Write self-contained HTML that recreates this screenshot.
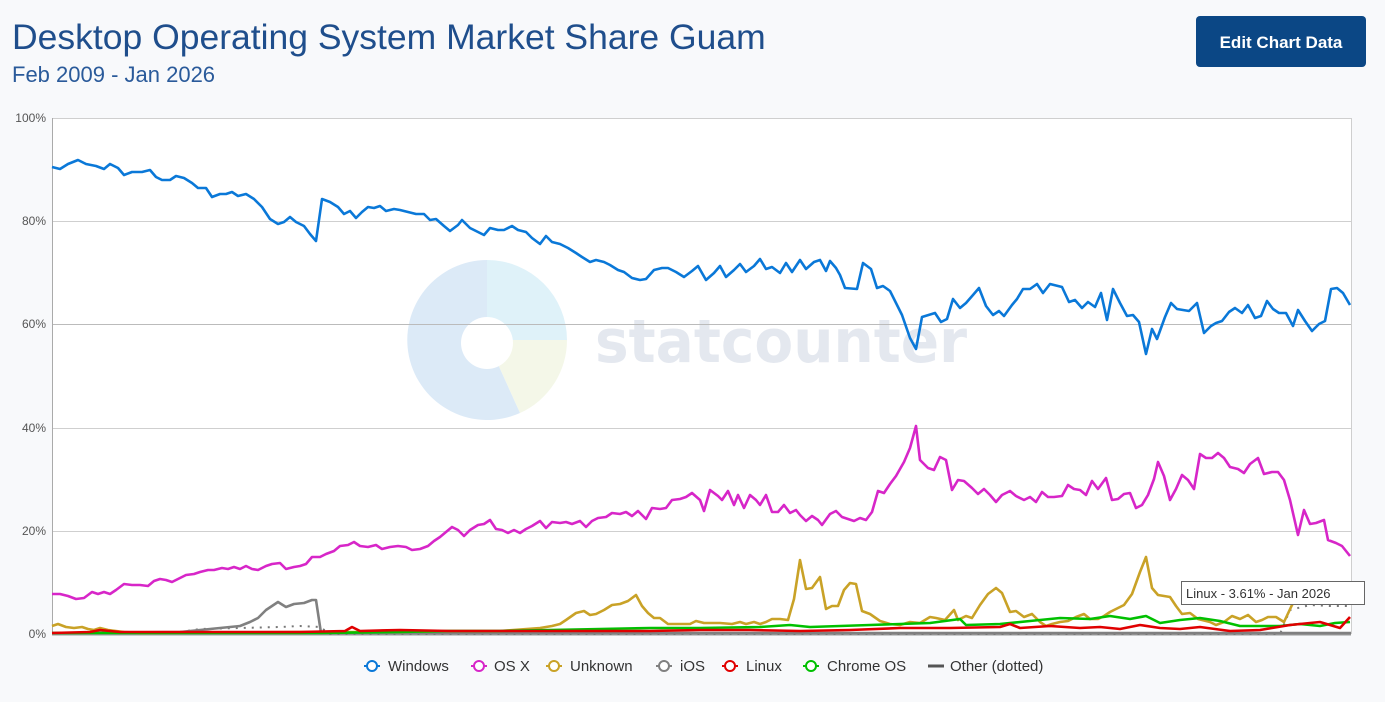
<!DOCTYPE html>
<html><head><meta charset="utf-8"><style>
body{margin:0;background:#f8f9fb;font-family:"Liberation Sans",sans-serif;}
</style></head><body>
<svg width="1385" height="702" xmlns="http://www.w3.org/2000/svg" style="display:block">
<rect width="1385" height="702" fill="#f8f9fb"/>
<text x="12" y="49" font-family="Liberation Sans, sans-serif" font-size="35.5" fill="#1f4e8c">Desktop Operating System Market Share Guam</text>
<text x="12" y="82" font-family="Liberation Sans, sans-serif" font-size="22" fill="#2a5a9a">Feb 2009 - Jan 2026</text>
<rect x="1196" y="16" width="170" height="51" rx="4" fill="#0b4785"/>
<text x="1281" y="48" text-anchor="middle" font-family="Liberation Sans, sans-serif" font-size="17" font-weight="bold" fill="#fff">Edit Chart Data</text>
<rect x="52" y="118" width="1299" height="516" fill="#fff"/>
<g opacity="0.9">
<path d="M487,340 L487,260 A80,80 0 0 1 567,340 Z" fill="#dcf1f9"/>
<path d="M487,340 L567,340 A80,80 0 0 1 520,413 Z" fill="#f3f7e6"/>
<path d="M487,340 L520,413 A80,80 0 1 1 487,260 Z" fill="#d9e8f7"/>
<circle cx="487" cy="343" r="26" fill="#fff"/>
<text x="595" y="362" font-family="DejaVu Sans, sans-serif" font-weight="bold" font-size="60" fill="#e2e6ee" textLength="372" lengthAdjust="spacingAndGlyphs">statcounter</text>
</g>
<g stroke="#cfcfcf" stroke-width="1">
<line x1="52" y1="118.5" x2="1351" y2="118.5"/><line x1="52" y1="221.5" x2="1351" y2="221.5"/>
<line x1="52" y1="324.5" x2="1351" y2="324.5" stroke="#bbb"/><line x1="52" y1="428.5" x2="1351" y2="428.5"/>
<line x1="52" y1="531.5" x2="1351" y2="531.5"/><line x1="52" y1="634.5" x2="1351" y2="634.5" stroke="#999" stroke-width="2"/>
<line x1="52.5" y1="118" x2="52.5" y2="634" stroke="#aaa"/><line x1="1351.5" y1="118" x2="1351.5" y2="634"/>
</g>
<g font-family="Liberation Sans, sans-serif" font-size="12" fill="#555" text-anchor="end">
<text x="46" y="122">100%</text><text x="46" y="225">80%</text><text x="46" y="328">60%</text><text x="46" y="432">40%</text><text x="46" y="535">20%</text><text x="46" y="638">0%</text>
</g>
<g fill="none" stroke-width="2.6" stroke-linejoin="round">
<polyline stroke="#777" stroke-width="2" stroke-dasharray="2,6" points="52,633 180,632 200,629 240,628 280,627 300,626 320,627 330,634 1280,634 1290,610 1310,605 1330,606 1350,606"/>
<polyline stroke="#808080" points="52,633 180,632 200,630 220,628 240,626 250,622 258,618 266,610 272,606 278,602 286,607 294,604 304,603 312,600 316,600 321,633 1351,633"/>
<polyline stroke="#c9a227" points="52,626 58,624 66,627 74,628 82,627 88,629 94,630 100,628 108,630 116,631 124,632 140,633 300,632 400,632 450,631 500,631 540,628 552,626 560,624 566,620 576,613 584,611 590,615 596,614 604,610 612,605 620,604 628,601 636,595 642,606 648,613 654,618 660,618 668,624 690,624 696,621 704,623 720,623 732,624 740,622 746,624 754,622 760,624 766,622 772,619 780,619 788,620 794,599 800,560 806,589 812,588 820,577 826,609 832,606 838,606 844,590 850,583 856,584 862,611 870,614 880,621 890,624 900,625 910,622 920,623 930,617 936,618 945,620 954,610 958,620 966,616 972,618 980,605 988,594 996,588 1002,593 1010,612 1016,611 1024,617 1032,614 1040,622 1046,626 1052,624 1060,622 1068,621 1076,617 1084,614 1090,619 1098,619 1104,616 1110,612 1118,608 1124,605 1132,594 1140,572 1146,557 1152,588 1158,595 1170,597 1176,606 1182,614 1190,613 1198,619 1210,622 1216,625 1224,622 1232,616 1240,619 1248,615 1256,622 1262,620 1268,617 1276,617 1284,622 1292,605 1300,595 1306,590 1320,590 1335,595 1350,595"/>
<polyline stroke="#00c000" points="52,633 200,633 320,633 400,632 450,631 500,631 550,630 600,629 650,628 700,628 760,627 790,625 810,627 840,626 870,625 900,624 930,623 960,619 966,625 1000,624 1030,621 1060,618 1090,619 1110,616 1130,619 1146,616 1160,623 1180,620 1200,618 1220,621 1240,626 1260,626 1280,626 1300,624 1320,626 1335,623 1350,622"/>
<polyline stroke="#e00000" points="52,633 90,632 100,630 120,632 200,632 300,632 345,631 352,627 360,631 400,630 450,631 500,631 550,631 600,631 650,631 700,630 750,630 800,631 850,630 900,628 950,628 1000,627 1010,624 1020,628 1050,626 1080,628 1100,627 1120,629 1140,625 1160,628 1180,629 1200,627 1230,631 1260,630 1290,625 1320,622 1340,628 1350,617"/>
<polyline stroke="#d726c8" points="52,594 60,594 68,596 76,599 84,598 92,592 98,594 104,592 110,594 116,590 124,584 132,585 140,585 148,586 154,581 160,579 166,580 172,582 180,578 186,575 194,574 200,572 208,570 214,570 222,568 228,569 234,567 240,569 246,566 252,569 258,570 266,566 272,564 280,563 286,569 294,567 300,566 306,564 312,557 320,557 326,554 334,551 340,546 348,545 354,542 360,546 368,547 376,545 382,549 390,547 398,546 406,547 412,550 420,549 428,546 434,541 440,537 446,532 452,527 458,530 464,536 470,530 478,525 484,524 490,520 496,529 502,530 508,533 514,530 520,533 526,529 532,526 540,521 546,528 552,522 560,523 566,522 572,524 580,521 586,527 592,521 598,518 606,517 612,513 620,514 626,512 632,516 638,511 646,519 652,508 660,509 666,508 672,500 680,499 686,497 692,493 700,500 704,511 710,490 718,496 722,500 728,491 734,505 738,495 744,508 750,495 756,500 760,505 766,495 772,512 778,512 784,505 790,513 796,510 800,515 806,521 812,516 818,520 822,525 830,514 836,511 842,517 848,519 854,521 860,518 866,520 872,512 878,491 884,493 890,484 896,476 904,462 910,448 916,426 920,460 928,468 934,470 940,457 946,460 952,490 958,480 964,481 972,488 978,494 984,489 990,495 996,502 1002,495 1010,491 1016,496 1024,500 1030,497 1036,502 1042,492 1048,497 1054,497 1062,496 1068,485 1074,489 1080,490 1086,495 1092,481 1098,489 1106,478 1112,500 1118,499 1124,494 1130,493 1136,508 1142,505 1148,495 1154,479 1158,462 1164,476 1170,500 1176,489 1182,475 1188,480 1194,489 1200,454 1206,458 1212,458 1218,453 1224,458 1230,467 1238,469 1244,473 1250,464 1258,458 1264,474 1272,472 1278,472 1284,480 1290,500 1298,535 1304,510 1310,524 1316,523 1324,520 1328,540 1336,543 1342,546 1350,556"/>
<polyline stroke="#0a78d8" points="52,167 60,169 68,164 78,160 86,164 96,166 104,169 110,164 118,168 124,175 132,172 142,172 150,170 156,177 162,180 170,180 176,176 184,178 192,183 198,188 206,188 212,197 220,194 226,194 232,192 238,196 246,194 254,199 262,207 270,219 278,224 284,222 290,217 296,222 304,226 310,234 316,241 322,199 330,202 338,207 344,214 350,211 356,218 362,212 368,207 374,208 380,206 386,211 394,209 400,210 408,212 416,214 424,214 430,220 436,219 444,226 450,231 458,225 462,220 470,228 476,231 484,235 490,228 498,230 504,230 512,226 518,230 526,232 532,238 540,244 546,236 552,242 560,244 568,248 576,253 582,257 590,262 596,260 604,262 610,265 618,270 624,272 632,278 640,280 646,279 654,270 662,268 668,268 676,272 684,277 692,271 698,266 706,280 714,273 720,266 726,277 734,270 740,264 746,272 754,266 760,259 766,269 772,267 780,273 786,263 792,272 800,260 806,269 814,262 820,260 826,271 830,261 836,268 840,275 845,288 857,289 863,263 871,269 877,288 883,286 890,291 902,315 910,338 916,349 922,317 935,313 941,322 947,319 953,299 960,308 966,303 973,295 979,288 986,306 993,315 999,311 1004,316 1012,305 1017,299 1023,289 1030,289 1037,284 1043,293 1050,284 1062,287 1069,302 1075,300 1082,308 1088,302 1095,307 1101,293 1107,320 1113,289 1120,303 1127,316 1133,315 1139,322 1146,354 1152,329 1157,339 1165,317 1171,303 1177,309 1189,311 1197,303 1204,333 1211,326 1216,323 1222,321 1229,312 1235,308 1242,313 1248,305 1255,318 1261,316 1267,301 1273,309 1279,313 1286,313 1293,326 1298,310 1305,321 1312,331 1319,324 1325,321 1331,289 1337,288 1343,293 1350,305"/>
</g>
<rect x="1181.5" y="581.5" width="183" height="23" fill="#fff" stroke="#666"/>
<text x="1186" y="598" font-family="Liberation Sans, sans-serif" font-size="13" fill="#333">Linux - 3.61% - Jan 2026</text>
<g font-family="Liberation Sans, sans-serif" font-size="15" fill="#333" stroke-width="2">
<g fill="none"><line x1="364" y1="666" x2="380" y2="666" stroke="#0a78d8"/><circle cx="372" cy="666" r="5" stroke="#0a78d8" fill="#fff"/></g><text x="388" y="671">Windows</text>
<g fill="none"><line x1="471" y1="666" x2="487" y2="666" stroke="#d726c8"/><circle cx="479" cy="666" r="5" stroke="#d726c8" fill="#fff"/></g><text x="494" y="671">OS X</text>
<g fill="none"><line x1="546" y1="666" x2="562" y2="666" stroke="#c9a227"/><circle cx="554" cy="666" r="5" stroke="#c9a227" fill="#fff"/></g><text x="570" y="671">Unknown</text>
<g fill="none"><line x1="656" y1="666" x2="672" y2="666" stroke="#808080"/><circle cx="664" cy="666" r="5" stroke="#808080" fill="#fff"/></g><text x="680" y="671">iOS</text>
<g fill="none"><line x1="722" y1="666" x2="738" y2="666" stroke="#e00000"/><circle cx="730" cy="666" r="5" stroke="#e00000" fill="#fff"/></g><text x="746" y="671">Linux</text>
<g fill="none"><line x1="803" y1="666" x2="819" y2="666" stroke="#00c000"/><circle cx="811" cy="666" r="5" stroke="#00c000" fill="#fff"/></g><text x="827" y="671">Chrome OS</text>
<line x1="928" y1="666" x2="944" y2="666" stroke="#555" stroke-width="3"/><text x="950" y="671">Other (dotted)</text>
</g>
</svg>
</body></html>
